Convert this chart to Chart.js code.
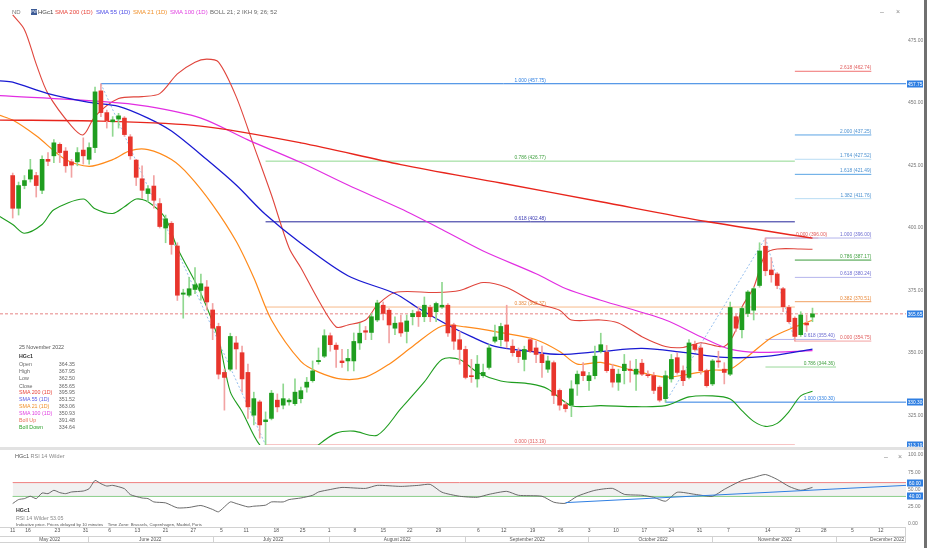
<!DOCTYPE html>
<html><head><meta charset="utf-8">
<script src="https://cdn.jsdelivr.net/npm/chart.js@4.4.1/dist/chart.umd.min.js"></script>
<style>
html,body{margin:0;padding:0;background:#fff;}
#wrap{position:relative;width:937px;height:554px;overflow:hidden;font-family:"Liberation Sans",Arial,sans-serif;}
canvas{position:absolute;left:0;}
.t{position:absolute;white-space:nowrap;line-height:1;}
.ip{position:absolute;left:19px;width:56px;font-size:5.3px;line-height:1;color:#666;}
.ip span{float:right;color:#666;}
</style></head><body>
<div id="wrap">
<canvas id="main" width="937" height="450" style="top:0"></canvas>
<canvas id="rsi" width="937" height="104" style="top:450px"></canvas>
<div style="position:absolute;left:0;top:447px;width:924px;height:3px;background:#e2e2e2"></div>
<div style="position:absolute;left:924px;top:0;width:3px;height:548px;background:#707070"></div>

<div class="t" style="left:12px;top:9px;font-size:6px;color:#777">ND</div>
<div class="t" style="left:31px;top:9px;width:6px;height:6px;background:#3d5b96;color:#fff;font-size:3.5px;line-height:6px;text-align:center">PW</div>
<div class="t" style="left:38px;top:9px;font-size:6px;color:#444">HGc1</div>
<div class="t" style="left:55px;top:9px;font-size:6px;color:#e8443a">SMA 200 (1D)</div>
<div class="t" style="left:96px;top:9px;font-size:6px;color:#4a4ae6">SMA 55 (1D)</div>
<div class="t" style="left:133px;top:9px;font-size:6px;color:#f0902a">SMA 21 (1D)</div>
<div class="t" style="left:170px;top:9px;font-size:6px;color:#e040e0">SMA 100 (1D)</div>
<div class="t" style="left:210px;top:9px;font-size:6px;color:#666">BOLL 21; 2</div>
<div class="t" style="left:242px;top:9px;font-size:6px;color:#666">IKH 9; 26; 52</div>
<div class="t" style="left:880px;top:8px;font-size:7px;color:#888">&#8211;</div>
<div class="t" style="left:896px;top:8px;font-size:7px;color:#888">&#215;</div>

<div class="t" style="left:19px;top:345px;font-size:5.3px;color:#555">25 November 2022</div>
<div class="t" style="left:19px;top:354px;font-size:5.3px;color:#333;font-weight:bold">HGc1</div>
<div class="ip" style="top:362px">Open<span>364.35</span></div>
<div class="ip" style="top:369px">High<span>367.95</span></div>
<div class="ip" style="top:376px">Low<span>362.50</span></div>
<div class="ip" style="top:384px">Close<span>365.65</span></div>
<div class="ip" style="top:390px;color:#e8443a">SMA 200 (1D)<span>395.95</span></div>
<div class="ip" style="top:397px;color:#5a5ae6">SMA 55 (1D)<span>351.52</span></div>
<div class="ip" style="top:404px;color:#f0902a">SMA 21 (1D)<span>363.06</span></div>
<div class="ip" style="top:411px;color:#e040e0">SMA 100 (1D)<span>350.93</span></div>
<div class="ip" style="top:418px;color:#e8705a">Boll Up<span>391.48</span></div>
<div class="ip" style="top:425px;color:#2aa02a">Boll Down<span>334.64</span></div>

<div class="t" style="left:15px;top:454px;font-size:5.5px;color:#555">HGc1 <span style="color:#888">RSI 14 Wilder</span></div>
<div class="t" style="left:884px;top:453px;font-size:7px;color:#888">&#8211;</div>
<div class="t" style="left:898px;top:453px;font-size:7px;color:#888">&#215;</div>
<div class="t" style="left:16px;top:508px;font-size:5.3px;color:#333;font-weight:bold">HGc1</div>
<div class="t" style="left:16px;top:516px;font-size:5.3px;color:#888">RSI 14 Wilder 53.05</div>
<div class="t" style="left:16px;top:523px;font-size:4.3px;color:#555">Indicative price. Prices delayed by 10 minutes &nbsp;&nbsp; Time Zone: Brussels, Copenhagen, Madrid, Paris</div>
</div>
<script>
const FONT = '"Liberation Sans", Arial, sans-serif';
const XMIN = -2.16, XMAX = 151.9;

// ---- candles (trading-day index 0 = 11 May 2022) ----
const O = [421.0,407.9,417.0,419.6,421.0,415.1,427.5,428.9,433.5,430.8,426.5,426.5,431.2,427.5,432.2,454.9,446.2,442.5,443.6,444.0,436.5,427.2,419.7,413.8,416.8,409.8,400.0,401.9,392.8,373.5,373.1,375.4,375.0,376.4,367.2,360.6,342.2,343.5,354.0,350.1,342.2,325.1,330.4,322.5,323.8,331.1,329.1,330.4,329.7,331.7,336.3,338.9,346.5,348.7,356.9,353.1,346.8,346.8,346.8,354.0,358.9,358.2,363.2,369.1,367.1,359.9,362.1,358.6,364.5,366.5,364.5,368.2,366.5,368.4,369.1,361.2,355.3,351.4,340.9,339.6,340.9,344.2,354.7,355.3,361.2,352.7,350.7,347.4,355.3,352.0,349.4,343.5,346.1,335.0,329.3,329.1,337.6,342.5,338.9,340.9,350.7,350.3,343.5,338.3,342.9,343.5,341.5,345.9,341.3,340.9,336.3,331.7,339.6,348.1,342.9,340.2,353.4,352.0,342.9,337.6,346.8,343.5,341.5,364.5,359.3,365.8,367.1,377.0,392.7,383.2,381.6,375.7,368.2,363.9,357.3,361.9,364.35];
const H = [422.0,418.4,421.0,427.5,422.3,428.9,430.2,435.4,434.1,432.2,427.5,432.2,436.1,434.1,456.4,457.75,447.2,444.6,445.9,444.6,437.4,427.5,424.9,417.0,421.0,411.8,405.2,402.6,394.1,375.5,380.3,384.2,381.6,379.0,369.8,361.9,343.5,357.9,356.6,352.7,345.5,334.3,331.1,326.4,335.0,333.6,337.6,331.7,339.6,336.3,340.2,346.8,352.0,359.3,358.0,354.0,351.4,351.4,358.0,361.9,360.6,365.8,371.1,370.4,367.8,364.5,365.2,365.2,367.1,368.4,372.4,369.1,370.4,378.3,369.8,361.9,358.6,352.7,347.4,349.0,345.5,353.3,361.2,361.9,369.1,355.3,352.0,352.7,356.0,354.7,352.7,348.7,346.8,335.6,330.4,338.9,342.8,346.1,342.2,352.7,357.9,353.0,345.5,343.5,349.4,346.8,347.4,347.4,342.8,342.2,336.9,342.8,349.4,350.1,344.8,355.3,354.7,353.4,343.5,347.4,350.7,346.1,370.4,365.8,368.5,375.0,376.3,394.1,396.0,388.1,382.2,376.3,369.1,364.5,366.5,365.2,367.95];
const L = [404.0,405.2,415.7,418.4,412.4,413.8,425.0,426.2,426.2,422.3,420.3,424.9,425.6,425.6,430.2,444.6,440.0,436.7,440.0,436.7,427.5,417.0,411.8,410.5,407.9,400.0,394.1,389.5,371.0,363.9,372.4,373.7,371.1,367.2,355.3,339.6,327.1,342.8,343.5,334.3,323.8,321.2,315.9,313.19,323.2,326.4,327.6,329.1,329.0,330.0,334.3,338.3,345.5,348.1,350.7,344.2,344.2,342.8,342.8,351.4,355.3,355.3,362.5,363.2,354.0,357.3,356.6,354.0,361.2,360.6,362.5,362.5,362.5,367.8,356.6,351.4,345.5,339.6,338.2,336.3,340.2,343.5,354.0,352.7,352.0,348.7,346.1,342.8,350.1,346.1,340.2,342.2,329.7,327.1,326.4,324.5,333.0,338.9,335.0,339.6,350.0,342.2,336.3,335.0,337.6,338.3,335.0,340.9,340.2,333.7,330.4,330.3,338.3,341.5,336.9,339.6,350.7,341.5,336.3,336.9,344.2,337.6,340.9,358.6,356.0,364.5,363.2,376.3,380.9,378.3,375.7,366.5,361.9,354.75,356.6,358.6,362.50];
const C = [407.9,417.0,419.0,423.3,417.0,427.5,426.7,434.1,430.2,424.9,425.2,430.2,428.9,432.2,454.5,446.2,443.0,443.3,444.9,437.4,428.9,420.3,415.1,415.7,411.1,400.6,403.7,393.4,373.1,374.0,375.7,377.3,377.7,370.4,359.9,341.5,340.2,356.6,351.6,339.6,328.4,331.7,321.2,323.2,333.9,328.4,331.7,331.1,334.3,334.9,338.3,342.8,347.0,356.9,353.3,351.4,346.1,347.8,354.6,357.9,358.3,364.5,370.0,365.8,361.2,361.9,358.0,362.8,365.8,364.5,369.1,364.5,369.8,369.1,358.0,354.7,351.4,340.2,340.5,345.5,342.2,352.0,356.4,360.6,354.7,350.1,348.5,351.4,350.7,349.4,346.1,346.8,333.0,329.1,327.7,335.6,341.5,340.9,340.9,348.7,353.3,342.9,338.3,341.5,345.5,343.0,343.5,341.5,340.9,335.0,331.1,340.9,347.4,342.2,338.9,354.0,351.4,342.9,336.9,346.8,346.4,342.2,368.2,359.9,367.8,374.4,375.7,390.8,382.9,381.3,377.0,368.5,362.5,356.6,365.2,361.2,365.65];

// ---- indicator lines (index, value) ----
const sma200X = [-2.2,15,32,49,66,83,100,118,136];
const sma200Y = [443.2,442.8,440.8,434.1,425.4,418.0,410.5,402.6,395.95];
const sma55X = [-2.2,0,6,13,18,23,27,33,38,43,49,57,65,69,74,78,82,88,93,100,107,114,121,128,136];
const sma55Y = [458.9,458.4,453.8,450.3,448.7,444.0,438.8,427.4,417.2,405.4,393.9,380.9,373.8,367.9,361.2,356.5,352.6,350.6,349.4,350.6,351.8,350.2,348.2,348.6,351.52];
const sma100X = [-2.2,15,23,32,40,49,57,66,73,80,89,94,100,111,117,122,127,136];
const sma100Y = [453.0,450.7,448.7,444.0,435.3,426.2,417.2,407.7,399.4,390.8,381.7,375.8,371.1,363.2,356.5,351.5,350.2,350.93];
const sma21X = [-2.2,0,4,9,13,17,20,23,27,30,34,38,41,44,49,52,56,60,64,68,73,77,83,89,93,96,100,106,111,115,119,122,125,129,133,136];
const sma21Y = [445.1,443.2,436.9,427.4,424.7,427.4,431.0,431.4,427.4,421.1,409.3,394.7,380.1,363.2,346.6,342.3,339.5,340.3,345.5,352.6,360.8,360.4,358.1,355.3,350.6,345.5,346.2,342.7,340.3,341.5,343.1,343.5,348.6,356.1,360.4,363.06];
const bollUpX = [0,2,4,6,10,12,14,18,22,25,28,31,33,35,38,41,44,47,49,52,55,57,60,62,65,72,76,80,84,89,93,95,100,103,107,111,114,117,121,123,124,126,128,130,134,136];
const bollUpY = [485.3,479.4,465.6,453.8,440.8,437.3,444.7,451.8,452.6,453.8,461.7,466.4,467.6,466.4,452.6,432.9,413.2,392.0,384.1,371.1,360.4,361.2,363.2,369.1,374.2,374.2,375.0,378.2,376.2,369.9,367.1,363.2,363.2,362.0,356.5,352.6,352.2,354.1,352.6,359.3,368.3,376.2,389.6,391.6,391.6,391.48];
const bollDnX = [-2.2,0,2,5,7,12,14,17,19,21,23,26,28,32,35,37,39,42,47,52,55,58,62,66,70,73,76,79,83,88,91,95,100,106,111,115,119,122,124,126,128,130,132,134,136];
const bollDnY = [404.6,401.4,397.9,401.4,407.3,411.6,407.7,405.8,408.5,411.6,410.5,403.8,392.0,373.8,355.3,334.4,326.6,313.2,303.0,313.2,317.9,318.7,317.1,327.7,338.4,347.4,347.4,342.3,338.8,337.6,335.6,328.9,328.9,328.5,328.9,332.4,332.8,331.6,326.9,322.6,320.6,321.8,326.5,332.8,334.64];

// ---- Fibonacci levels ----
const fibText  = ['1.000 (457.75)','0.786 (426.77)','0.618 (402.48)','0.382 (368.37)','0.000 (313.19)','1.000 (396.00)','0.786 (387.17)','0.618 (380.24)','0.382 (370.51)','0.000 (354.75)','1.382 (411.76)','1.618 (421.49)','1.764 (427.52)','2.000 (437.25)','2.618 (462.74)','0.000 (396.00)','0.618 (355.40)','0.786 (344.36)','1.000 (330.30)'];
const fibPrice = [457.75,426.77,402.48,368.37,313.19,396.00,387.17,380.24,370.51,354.75,411.76,421.49,427.52,437.25,462.74,396.00,355.40,344.36,330.30];
const fibFrom  = [15,43,43,43,43,128,133,133,133,133,133,133,133,133,133,128,128,128,111];
const fibTo    = [XMAX,133,133,133,133,146,146,146,146,146,146,146,146,146,146,137,140,140,XMAX];
const fibLblAt = [88,88,88,88,88,146,146,146,146,146,146,146,146,146,146,138.5,139.8,139.8,139.8];
const fibDiagX = [[15,43],[111,128],[128,133]];
const fibDiagY = [[457.75,313.19],[330.30,396.00],[396.00,354.75]];
const lastPrice = 365.65;
const priceTicks = [325,350,375,400,425,450,475];
const priceBoxes = [457.75,365.65,330.30,313.19];

// ---- RSI ----
const rsiX = [0,1,2,3,4,5,6,7,8,9,10,12,13,14,15,16,17,19,20,22,23,24,26,28,30,32,34,35,37,38,40,41,43,44,46,47,49,51,52,54,56,60,62,66,69,71,73,76,79,81,84,86,90,92,94,96,99,102,104,107,109,111,113,116,119,121,124,126,128,130,132,134,136];
const rsiY = [29.7,35.4,36.8,40.2,36.8,44.9,44.0,48.8,45.5,44.0,46.4,47.8,51.2,63.1,58.4,55.0,56.0,51.2,42.6,37.7,36.8,32.0,30.6,23.4,24.0,26.8,21.1,17.7,32.0,29.7,24.8,25.8,27.3,32.0,32.0,35.4,37.7,41.6,46.4,50.0,53.0,51.6,56.0,54.5,56.0,57.4,46.0,40.2,38.7,43.0,47.3,41.6,40.2,31.6,30.0,40.2,48.8,51.6,43.0,41.6,38.7,33.0,46.0,43.0,40.2,50.2,63.1,67.4,71.7,64.6,54.5,48.8,53.05];
const rsiTrendX = [94,XMAX];
const rsiTrendY = [31,56];
const rsiTicks = [0,25,50,75,100];
const rsiBoxes = [60,40];

// ---- date axis ----
const dayPos = [0,2.6,7.6,12.4,16.5,21.2,26,30.7,35.5,39.7,44.8,49.3,53.8,58.2,63,67.5,72.4,79.2,83.5,88.4,93.2,98,102.6,107.4,112,116.8,121.7,128.4,133.5,137.9,142.8,147.6];
const dayLabels = ['11','16','23','31','6','13','21','27','5','11','18','25','1','8','15','22','29','6','12','19','26','3','10','17','24','31','7','14','21','28','5','12'];
const monthNames = ['May 2022','June 2022','July 2022','August 2022','September 2022','October 2022','November 2022','December 2022'];
const monthMid = [6.3,23.4,44.3,65.4,87.5,108.9,129.6,148.7];
const monthEdge = [12.8,34.1,53.8,76.9,97.8,118.9,140.0];

// ---------- build ----------
const idx = C.map((_, i) => i);
const pts = (xs, ys) => xs.map((x, i) => ({x, y: ys[i]}));
const upC = '#1f9d1f', dnC = '#e8352c', upW = '#90d890', dnW = '#f2a3a3';
const lineDs = (xs, ys, color, w, order, extra) => Object.assign({type:'line', data:pts(xs, ys), borderColor:color, borderWidth:w, pointRadius:0, tension:0.3, fill:false, order}, extra || {});

const fibLineColor = ['#2a7de1','#8fd88f','#24249a','#f7b98a','#f2a0a0','#b4b4ec','#3a9a3a','#b4b4ec','#f0a060','#f2a0a0','#b8dcf4','#5aa4e4','#b8dcf4','#5aa4e4','#f07070','#f2a0a0','#b4b4ec','#9ad89a','#2a7de1'];
const fibTextColor = ['#2a7de1','#3c9e3c','#3434b0','#e8883a','#e05a5a','#6a6ad0','#3c9e3c','#6a6ad0','#e8883a','#e05a5a','#4a90d0','#4a90d0','#4a90d0','#4a90d0','#e05a5a','#e05a5a','#6a6ad0','#3c9e3c','#2a7de1'];
const fibAlign = fibText.map((_, k) => k < 5 ? 'center' : 'right');

const datasets = [
  {type:'bar', data: idx.map(i => ({x:i, y:[O[i], C[i]]})), backgroundColor: idx.map(i => C[i] >= O[i] ? upC : dnC), barThickness:4, minBarLength:1, grouped:false, order:1},
  {type:'bar', data: idx.map(i => ({x:i, y:[L[i], H[i]]})), backgroundColor: idx.map(i => C[i] >= O[i] ? upW : dnW), barThickness:1, grouped:false, order:2},
  lineDs(sma200X, sma200Y, '#e8251c', 1.4, 5),
  lineDs(sma55X, sma55Y, '#1a1ad2', 1.3, 5),
  lineDs(sma100X, sma100Y, '#e22ee2', 1.2, 5),
  lineDs(sma21X, sma21Y, '#ff8a1a', 1.2, 5),
  lineDs(bollUpX, bollUpY, '#e0453c', 1.1, 6),
  lineDs(bollDnX, bollDnY, '#1f9d1f', 1.1, 6),
  lineDs([XMIN, XMAX], [lastPrice, lastPrice], '#e06666', 0.8, 8, {borderDash:[3,2], tension:0})
];
fibPrice.forEach((p, k) => datasets.push(lineDs([fibFrom[k], fibTo[k]], [p, p], fibLineColor[k], 1, 20, {tension:0})));
fibDiagX.forEach((xs, k) => datasets.push(lineDs(xs, fibDiagY[k], '#8ab8ec', 0.9, 21, {borderDash:[2,2], tension:0})));

function drawBox(ctx, x, y, text) {
  ctx.fillStyle = '#2f7fe2';
  ctx.fillRect(x, Math.round(y) - 3.5, 16, 7);
  ctx.fillStyle = '#fff';
  ctx.textAlign = 'center'; ctx.textBaseline = 'middle';
  ctx.fillText(text, x + 8, Math.round(y) + 0.2);
}

const mainPlugin = {
  id: 'mainAnno',
  afterDatasetsDraw(chart) {
    const {ctx, scales:{x, y}} = chart;
    ctx.save();
    ctx.font = '4.8px ' + FONT;
    ctx.textBaseline = 'bottom';
    fibText.forEach((t, k) => {
      ctx.fillStyle = fibTextColor[k];
      ctx.textAlign = fibAlign[k];
      ctx.fillText(t, x.getPixelForValue(fibLblAt[k]), y.getPixelForValue(fibPrice[k]) - 1);
    });
    ctx.restore();
  },
  afterDraw(chart) {
    const {ctx, chartArea, scales:{y}} = chart;
    ctx.save();
    ctx.font = '4.8px ' + FONT;
    priceBoxes.forEach(v => drawBox(ctx, chartArea.right + 1, y.getPixelForValue(v), v.toFixed(2)));
    ctx.restore();
  }
};

new Chart(document.getElementById('main'), {
  type: 'bar',
  data: {datasets},
  options: {
    responsive:false, animation:false, events:[],
    layout:{padding:{top:0, bottom:3, left:0, right:0}},
    plugins:{legend:{display:false}, tooltip:{enabled:false}},
    scales:{
      x:{type:'linear', min:XMIN, max:XMAX, display:false, offset:false},
      y:{type:'linear', position:'right', min:313.15, max:489.27,
         grid:{display:false, drawTicks:false}, border:{display:false},
         ticks:{font:{size:5, family:FONT}, color:'#777', padding:2, callback:v => Number(v).toFixed(2)},
         afterBuildTicks:s => { s.ticks = priceTicks.map(v => ({value:v})); },
         afterFit:s => { s.width = 31; }}
    }
  },
  plugins:[mainPlugin]
});

const rsiPlugin = {
  id:'rsiAnno',
  afterDraw(chart) {
    const {ctx, chartArea, scales:{x, y}} = chart;
    ctx.save();
    ctx.font = '4.8px ' + FONT;
    rsiBoxes.forEach(v => drawBox(ctx, chartArea.right + 1, y.getPixelForValue(v), v.toFixed(2)));
    ctx.strokeStyle = '#d2d2d2'; ctx.lineWidth = 1;
    [77.5, 86.5, 92.5].forEach(yy => { ctx.beginPath(); ctx.moveTo(0, yy); ctx.lineTo(chartArea.right, yy); ctx.stroke(); });
    ctx.beginPath(); ctx.moveTo(chartArea.right - 0.5, 77.5); ctx.lineTo(chartArea.right - 0.5, 92.5); ctx.stroke();
    monthEdge.forEach(e => { const px = Math.round(x.getPixelForValue(e)) + 0.5; ctx.beginPath(); ctx.moveTo(px, 86.5); ctx.lineTo(px, 92.5); ctx.stroke(); });
    ctx.fillStyle = '#555'; ctx.textAlign = 'center'; ctx.textBaseline = 'middle';
    monthNames.forEach((m, k) => ctx.fillText(m, x.getPixelForValue(monthMid[k]), 89.7));
    ctx.restore();
  }
};

new Chart(document.getElementById('rsi'), {
  type:'line',
  data:{datasets:[
    {data:pts([0, XMAX], [60, 60]), borderColor:'#f08080', borderWidth:1, pointRadius:0, fill:'+1', backgroundColor:'rgba(232,232,232,0.6)', order:5},
    {data:pts([0, XMAX], [40, 40]), borderColor:'#5cc05c', borderWidth:1, pointRadius:0, fill:false, order:6},
    {data:pts(rsiX, rsiY), borderColor:'#5a5a5a', borderWidth:0.9, pointRadius:0, tension:0.2, fill:false, order:2},
    {data:pts(rsiTrendX, rsiTrendY), borderColor:'#2f7fe2', borderWidth:1, pointRadius:0, fill:false, order:1}
  ]},
  options:{
    responsive:false, animation:false, events:[],
    layout:{padding:{top:4, bottom:0, left:0, right:0}},
    plugins:{legend:{display:false}, tooltip:{enabled:false}},
    scales:{
      x:{type:'linear', min:XMIN, max:XMAX, offset:false,
         grid:{display:false, drawTicks:false}, border:{display:false},
         ticks:{autoSkip:false, maxRotation:0, font:{size:5, family:FONT}, color:'#555', padding:4, callback:(v, i) => dayLabels[i]},
         afterBuildTicks:s => { s.ticks = dayPos.map(v => ({value:v})); },
         afterFit:s => { s.height = 30; }},
      y:{type:'linear', position:'right', min:0, max:100,
         grid:{display:false, drawTicks:false}, border:{display:false},
         ticks:{font:{size:5, family:FONT}, color:'#777', padding:2, callback:v => Number(v).toFixed(2)},
         afterBuildTicks:s => { s.ticks = rsiTicks.map(v => ({value:v})); },
         afterFit:s => { s.width = 31; }}
    }
  },
  plugins:[rsiPlugin]
});
</script>
</body></html>
